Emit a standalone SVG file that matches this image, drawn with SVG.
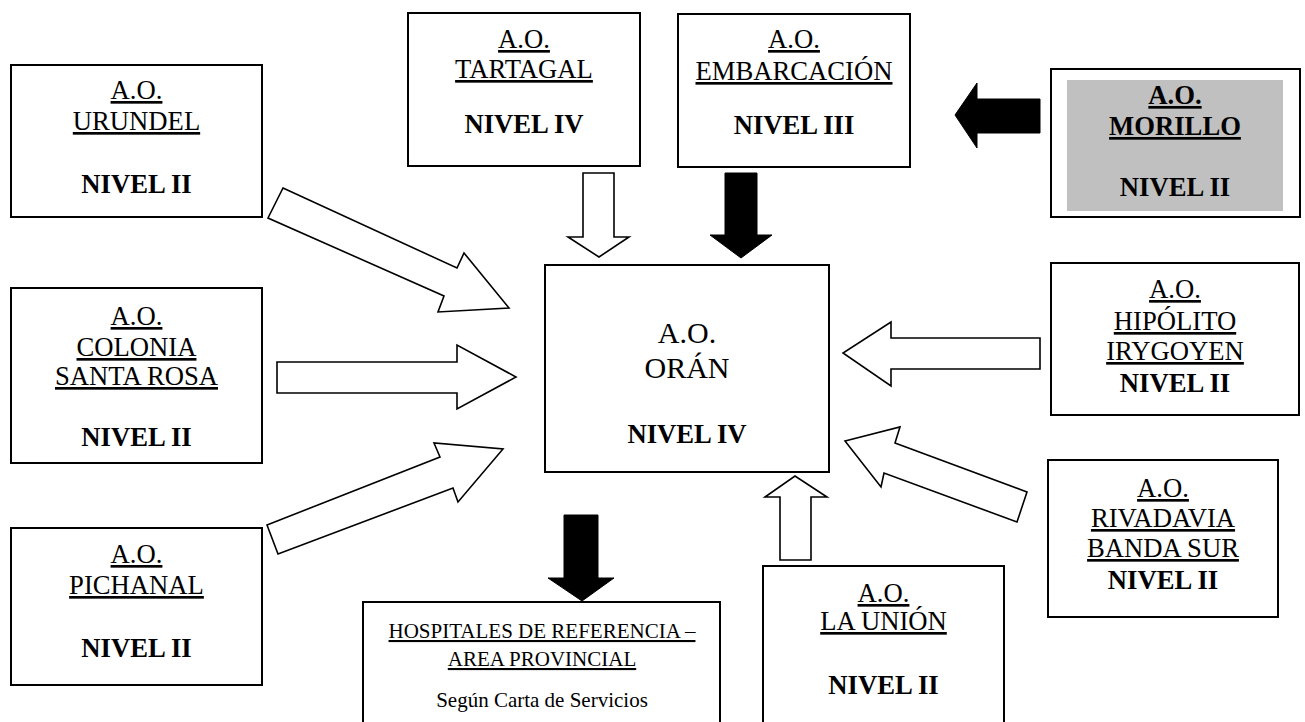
<svg xmlns="http://www.w3.org/2000/svg" width="1305" height="722" viewBox="0 0 1305 722">
<style>
.box{fill:#fff;stroke:#000;stroke-width:2}
.wa{fill:#fff;stroke:#000;stroke-width:1.6;stroke-linejoin:miter}
.ba{fill:#000;stroke:#000;stroke-width:1}
text{font-family:"Liberation Serif","Times New Roman",serif;font-size:26.67px;text-anchor:middle;fill:#000}
.u{text-decoration:underline}
.b{font-weight:bold}
.big{font-size:30px}
.sm{font-size:21px}
</style>
<rect width="1305" height="722" fill="#fff"/>
<g id="connectors">
<polygon class="wa" points="583,173 614,173 614,237 629,237 599,257 568,237 583,237"/>
<polygon class="ba" points="725,173 757,173 757,235 772,235 741,258 710,235 725,235"/>
<polygon class="ba" points="1040,99 1040,133 977,133 977,148 955,115 977,83 977,99"/>
<polygon class="wa" points="1040,338 1040,369 891,369 891,386 843,353 891,322 891,338"/>
<polygon class="wa" points="283,188 457,268 464,253 509,308 438,312 444,296 268,218"/>
<polygon class="wa" points="277,362 457,362 457,345 516,377 457,409 457,393 277,393"/>
<polygon class="wa" points="267,525 440,457 434,443 503,449 458,502 453,488 278,554"/>
<polygon class="wa" points="845,441 900,427 895,443 1027,492 1017,522 884,473 881,487"/>
<polygon class="wa" points="780,560 811,560 811,497 827,497 795,476 765,497 780,497"/>
<polygon class="ba" points="564,515 598,515 598,578 614,578 582,601 548,578 564,578"/>
</g>
<g id="urundel">
<rect class="box" x="11" y="65" width="251" height="152"/>
<text x="136.5" y="99" class="u">A.O.</text>
<text x="136.5" y="130" class="u">URUNDEL</text>
<text x="136.5" y="193" class="b">NIVEL II</text>
</g>
<g id="colonia">
<rect class="box" x="11" y="288" width="251" height="175"/>
<text x="136.5" y="325" class="u">A.O.</text>
<text x="136.5" y="356" class="u">COLONIA</text>
<text x="136.5" y="385" class="u">SANTA ROSA</text>
<text x="136.5" y="446" class="b">NIVEL II</text>
</g>
<g id="pichanal">
<rect class="box" x="11" y="528" width="251" height="157"/>
<text x="136.5" y="563" class="u">A.O.</text>
<text x="136.5" y="594" class="u">PICHANAL</text>
<text x="136.5" y="657" class="b">NIVEL II</text>
</g>
<g id="tartagal">
<rect class="box" x="408" y="13" width="232" height="153"/>
<text x="524" y="48" class="u">A.O.</text>
<text x="524" y="78" class="u">TARTAGAL</text>
<text x="524" y="133" class="b">NIVEL IV</text>
</g>
<g id="embarcacion">
<rect class="box" x="678" y="14" width="232" height="153"/>
<text x="794" y="48" class="u">A.O.</text>
<text x="794" y="80" class="u">EMBARCACIÓN</text>
<text x="794" y="134" class="b">NIVEL III</text>
</g>
<g id="morillo">
<rect class="box" x="1051" y="69" width="249" height="148"/>
<rect x="1067" y="80" width="216" height="131" fill="#c0c0c0"/>
<text x="1175" y="104" class="u b">A.O.</text>
<text x="1175" y="135" class="u b">MORILLO</text>
<text x="1175" y="196" class="b">NIVEL II</text>
</g>
<g id="oran">
<rect class="box" x="545" y="265" width="284" height="207"/>
<text x="687" y="343" class="big">A.O.</text>
<text x="687" y="378" class="big">ORÁN</text>
<text x="687" y="443" class="b">NIVEL IV</text>
</g>
<g id="hipolito">
<rect class="box" x="1051" y="263" width="248" height="152"/>
<text x="1175" y="298" class="u">A.O.</text>
<text x="1175" y="330" class="u">HIPÓLITO</text>
<text x="1175" y="360" class="u">IRYGOYEN</text>
<text x="1175" y="392" class="b">NIVEL II</text>
</g>
<g id="rivadavia">
<rect class="box" x="1048" y="460" width="230" height="157"/>
<text x="1163" y="497" class="u">A.O.</text>
<text x="1163" y="527" class="u">RIVADAVIA</text>
<text x="1163" y="557" class="u">BANDA SUR</text>
<text x="1163" y="589" class="b">NIVEL II</text>
</g>
<g id="launion">
<rect class="box" x="763" y="566" width="241" height="160"/>
<text x="883.5" y="602" class="u">A.O.</text>
<text x="883.5" y="630" class="u">LA UNIÓN</text>
<text x="883.5" y="694" class="b">NIVEL II</text>
</g>
<g id="hospitales">
<rect class="box" x="363" y="602" width="357" height="124"/>
<text x="542" y="638" class="u sm">HOSPITALES DE REFERENCIA –</text>
<text x="542" y="666" class="u sm">AREA PROVINCIAL</text>
<text x="542" y="707" class="sm">Según Carta de Servicios</text>
</g>
</svg>
